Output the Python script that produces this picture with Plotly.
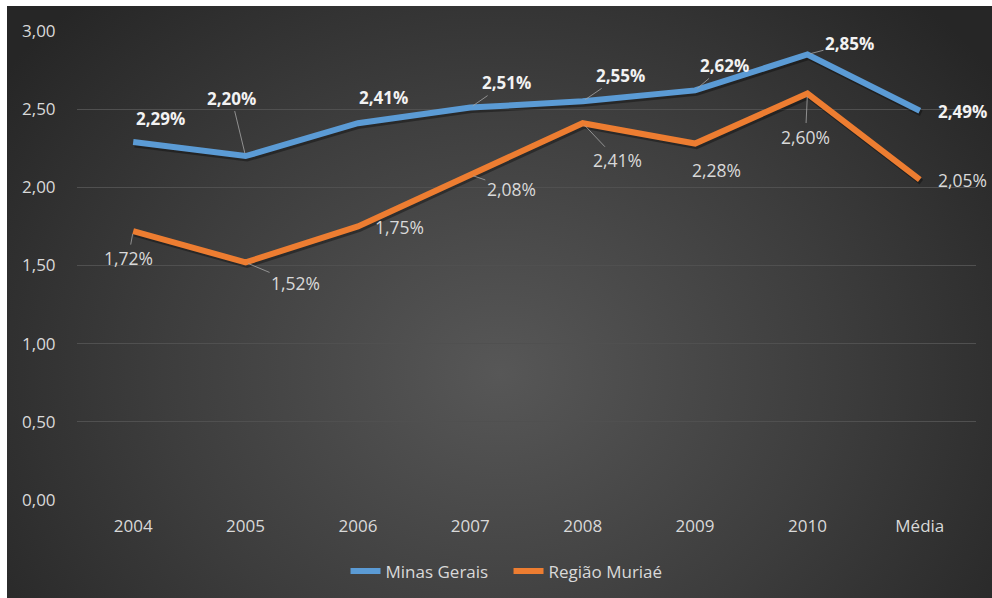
import base64
import plotly.graph_objects as go

categories = ["2004", "2005", "2006", "2007", "2008", "2009", "2010", "Média"]
minas_gerais = [2.29, 2.20, 2.41, 2.51, 2.55, 2.62, 2.85, 2.49]
regiao_muriae = [1.72, 1.52, 1.75, 2.08, 2.41, 2.28, 2.60, 2.05]
y_ticks = [0, 0.5, 1.0, 1.5, 2.0, 2.5, 3.0]

# label offsets (pixels) from each point and whether a leader line is shown
mg_offsets = [(27, -24, False), (-14, -58, True), (26, -26, False), (36, -25, True),
              (38, -26, True), (29, -25, True), (42, -11, True), (43, 1, False)]
rm_offsets = [(-5, 27, True), (50, 21, True), (42, 1, False), (41, 14, True),
              (35, 37, True), (21, 26, False), (-2, 43, True), (43, 0, False)]

W, H = 992, 598
L, R, T, B = 77, 16, 31, 98
pw, ph = W - L - R, H - T - B
n = len(categories)
ymax = 3.0

# shadow offset (pixels) converted to axis units
sdx, sdy = 1.5, 2.5
dx = sdx * n / pw
dy = sdy * ymax / ph

svg = '''<svg xmlns="http://www.w3.org/2000/svg" width="985" height="592" viewBox="0 0 985 592" preserveAspectRatio="none">
<defs><radialGradient id="g" cx="0.5" cy="0.62" r="0.62" gradientTransform="translate(0.5,0.62) scale(1,1.4) translate(-0.5,-0.62)">
<stop offset="0" stop-color="#575757"/><stop offset="0.55" stop-color="#3d3d3d"/><stop offset="1" stop-color="#262626"/>
</radialGradient></defs><rect width="985" height="592" fill="url(#g)"/></svg>'''
src = "data:image/svg+xml;base64," + base64.b64encode(svg.encode()).decode()

fig = go.Figure()
# soft shadows on the (hidden, shifted) base axes, drawn beneath the overlay
for vals in (minas_gerais, regiao_muriae):
    fig.add_trace(go.Scatter(x=list(range(n)), y=vals, mode="lines", xaxis="x", yaxis="y",
                             line=dict(color="rgba(0,0,0,0.35)", width=6), hoverinfo="skip",
                             showlegend=False))
fig.add_trace(go.Scatter(x=categories, y=minas_gerais, name="Minas Gerais", mode="lines",
                         xaxis="x2", yaxis="y2",
                         line=dict(color="#5B9BD5", width=6), hoverinfo="skip"))
fig.add_trace(go.Scatter(x=categories, y=regiao_muriae, name="Região Muriaé", mode="lines",
                         xaxis="x2", yaxis="y2",
                         line=dict(color="#ED7D31", width=6), hoverinfo="skip"))

annotations = []
for i, (v, (ax, ay, lead)) in enumerate(zip(minas_gerais, mg_offsets)):
    annotations.append(dict(x=i, y=v, xref="x2", yref="y2",
                            text=f"<b>{v:.2f}%</b>".replace(".", ","), ax=ax, ay=ay,
                            showarrow=True, arrowhead=0, arrowwidth=0.8, standoff=3,
                            arrowcolor="#a6a6a6" if lead else "rgba(0,0,0,0)",
                            font=dict(family="Open Sans", size=17, color="#f2f2f2")))
for i, (v, (ax, ay, lead)) in enumerate(zip(regiao_muriae, rm_offsets)):
    annotations.append(dict(x=i, y=v, xref="x2", yref="y2",
                            text=f"{v:.2f}%".replace(".", ","), ax=ax, ay=ay,
                            showarrow=True, arrowhead=0, arrowwidth=0.8, standoff=3,
                            arrowcolor="#a6a6a6" if lead else "rgba(0,0,0,0)",
                            font=dict(family="Open Sans", size=17.5, color="#d9d9d9")))

fig.update_layout(
    width=W, height=H,
    margin=dict(l=L, r=R, t=T, b=B, autoexpand=False),
    paper_bgcolor="white", plot_bgcolor="rgba(0,0,0,0)",
    separators=",.",
    font=dict(family="Open Sans", size=17, color="#d9d9d9"),
    images=[dict(source=src, xref="paper", yref="paper",
                 x=(7 - L) / pw, y=(H - B - 6) / ph,
                 sizex=(W - 7) / pw, sizey=(H - 6) / ph,
                 xanchor="left", yanchor="top", sizing="stretch", layer="below")],
    xaxis=dict(range=[-0.5 - dx, n - 0.5 - dx], visible=False, showgrid=False,
               zeroline=False, automargin=False, fixedrange=True),
    yaxis=dict(range=[0 + dy, ymax + dy], visible=False, showgrid=False,
               zeroline=False, automargin=False, fixedrange=True),
    xaxis2=dict(overlaying="x", side="bottom", type="category", range=[-0.5, n - 0.5],
                showgrid=False, automargin=False,
                showline=False, zeroline=False, ticks="outside", ticklen=11,
                tickcolor="rgba(0,0,0,0)", tickfont=dict(size=17, color="#d9d9d9"),
                fixedrange=True),
    yaxis2=dict(overlaying="y", side="left", range=[0, ymax], tickvals=y_ticks,
                tickformat=".2f", showgrid=True, automargin=False,
                gridcolor="#505050", gridwidth=1, zeroline=False, showline=False,
                ticks="outside", ticklen=17, tickcolor="rgba(0,0,0,0)",
                tickfont=dict(size=17, color="#d9d9d9"), fixedrange=True),
    legend=dict(orientation="h", x=0.48, xanchor="center", y=-0.114, yanchor="top",
                font=dict(size=17, color="#d9d9d9"), bgcolor="rgba(0,0,0,0)",
                entrywidth=118, entrywidthmode="pixels", tracegroupgap=0),
    annotations=annotations,
    showlegend=True,
)

fig.write_html("out.html")
